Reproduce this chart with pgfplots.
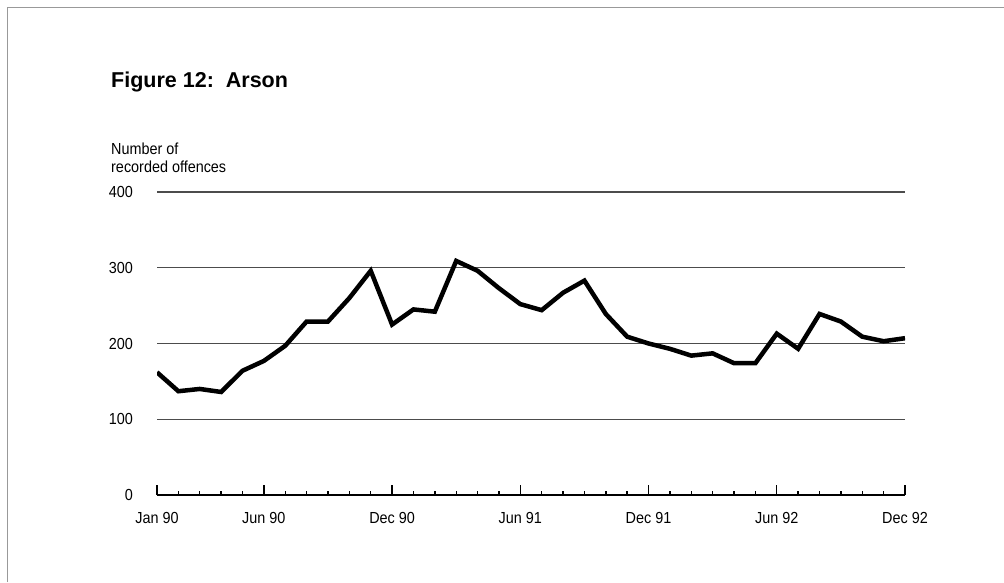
\documentclass[border=0pt]{standalone}
\usepackage{fontspec}
\setmainfont{Liberation Sans}
\newfontfamily\narrowfont[FakeStretch=0.9]{Liberation Sans}
\usepackage{pgfplots}
\pgfplotsset{compat=1.18}

\begin{document}
\begin{tikzpicture}[x=1pt,y=1pt]
\useasboundingbox (0,0) rectangle (1004,582);
\fill[white] (0,0) rectangle (1004,582);
% faint frame of the scanned page
\draw[black!40, line width=0.8pt] (7,0) -- (7,575) -- (1004,575);
\node[anchor=base west, inner sep=0pt, font=\fontsize{21.5}{24}\selectfont\bfseries] at (111,494) {Figure 12:\ \ Arson};
\node[anchor=north west, inner sep=0pt, align=left, font=\fontsize{16}{18}\selectfont\narrowfont] at (111,439) {Number of\\recorded offences};

\begin{axis}[
 at={(157pt,87pt)}, anchor=south west,
 scale only axis, width=748pt, height=303pt,
 xmin=0, xmax=35, ymin=0, ymax=400,
 axis x line*=bottom, axis y line*=left,
 y axis line style={draw=none},
 x axis line style={line width=1.8pt, -},
 xtick={0,5,11,17,23,29,35},
 xticklabels={Jan 90, Jun 90, Dec 90, Jun 91, Dec 91, Jun 92, Dec 92},
 minor xtick={1,...,34},
 xtick align=inside,
 major tick length=10pt, minor tick length=4pt,
 xtick style={line width=1.4pt, black},
 ytick={0,100,200,300,400},
 ytick style={draw=none},
 ymajorgrids, major grid style={black!70, line width=1.3pt},
 tick label style={font=\fontsize{16}{18}\selectfont\narrowfont, /pgf/number format/assume math mode=true},
 yticklabel style={anchor=east, inner sep=0pt, xshift=-24pt},
 xticklabel style={anchor=north, inner sep=0pt, yshift=-17pt},
]
\addplot[black, line width=4.5pt] coordinates {
 (0,162)(1,137)(2,140)(3,136)(4,164)(5,177)(6,197)(7,229)(8,229)(9,260)(10,296)(11,225)
 (12,245)(13,242)(14,309)(15,296)(16,273)(17,252)(18,244)(19,267)(20,283)(21,239)(22,209)(23,200)
 (24,193)(25,184)(26,187)(27,174)(28,174)(29,213)(30,193)(31,239)(32,229)(33,209)(34,203)(35,207)
};
\end{axis}
\end{tikzpicture}
\end{document}
